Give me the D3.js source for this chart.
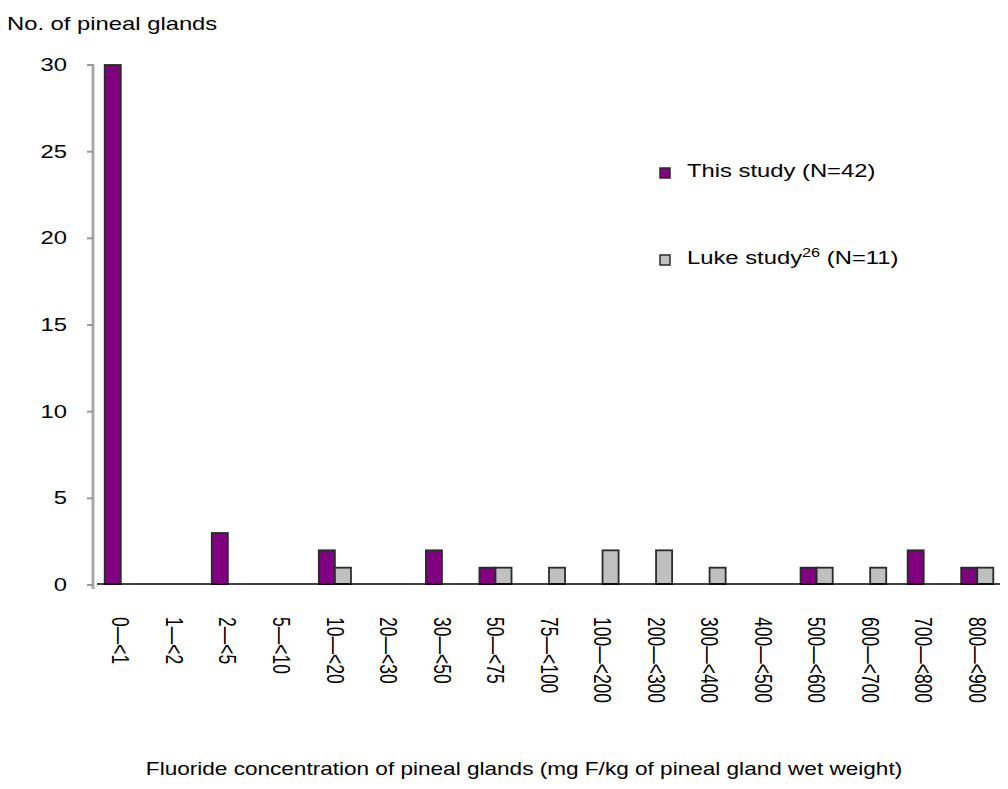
<!DOCTYPE html>
<html>
<head>
<meta charset="utf-8">
<script src="https://cdn.jsdelivr.net/npm/d3@7"></script>
<style>
  html, body { margin: 0; padding: 0; background: #fff; }
  svg { display: block; }
  text { font-family: "Liberation Sans", Arial, sans-serif; fill: #000; }
</style>
</head>
<body>
<svg id="chart" width="1008" height="789"></svg>
<script>
// Fluoride concentration bins (mg F/kg wet weight)
const categories = ["0—<1","1—<2","2—<5","5—<10","10—<20","20—<30","30—<50","50—<75",
  "75—<100","100—<200","200—<300","300—<400","400—<500","500—<600","600—<700","700—<800","800—<900"];
// Number of pineal glands per bin
const thisStudy = [30,0,3,0,2,0,2,1,0,0,0,0,0,1,0,2,1];
const lukeStudy = [0,0,0,0,1,0,0,1,1,2,2,1,0,1,1,0,1];
const seriesNames = ["thisStudy", "lukeStudy"];
const seriesColors = ["#800080", "#c0c0c0"];
const yTicks = [0,5,10,15,20,25,30];

const rows = categories.map((c, i) => ({ cat: c, thisStudy: thisStudy[i], lukeStudy: lukeStudy[i] }));

const svg = d3.select("#chart");
const SX = 1.36; // horizontal text stretch
const FS = 17.5;

const x = d3.scaleBand().domain(categories).range([94, 1004]).paddingInner(0.4).paddingOuter(0.2);
const xs = d3.scaleBand().domain(seriesNames).range([0, x.bandwidth()]).padding(0);
const y = d3.scaleLinear().domain([0, 30]).range([585, 65]);
const baseY = 584;

// y axis: soft grey spine with ticks
const yAxisG = svg.append("g");
yAxisG.append("line").attr("x1", 93).attr("x2", 93).attr("y1", y(30) - 1).attr("y2", y(0) + 4)
  .attr("stroke", "#d6d6d6").attr("stroke-width", 4);
yAxisG.append("line").attr("x1", 93).attr("x2", 93).attr("y1", y(30) - 1).attr("y2", y(0) + 4)
  .attr("stroke", "#a8a8a8").attr("stroke-width", 2);
yAxisG.selectAll("line.tick").data(yTicks).enter().append("line")
  .attr("class", "tick")
  .attr("x1", 87).attr("x2", 93)
  .attr("y1", d => y(d)).attr("y2", d => y(d))
  .attr("stroke", "#9a9a9a").attr("stroke-width", 2);
yAxisG.selectAll("text").data(yTicks).enter().append("text")
  .attr("transform", d => `translate(67,${y(d) + 6}) scale(${SX},1)`)
  .attr("text-anchor", "end")
  .style("font-size", FS + "px")
  .text(d => d);

// bars
const groups = svg.append("g").selectAll("g").data(rows).enter().append("g")
  .attr("transform", d => `translate(${x(d.cat)},0)`);
groups.selectAll("rect").data(d => seriesNames.map((k, j) => ({ key: k, v: d[k], j })))
  .enter().append("rect")
  .attr("x", d => xs(d.key))
  .attr("width", xs.bandwidth())
  .attr("y", d => y(d.v))
  .attr("height", d => Math.max(0, baseY - y(d.v)))
  .attr("fill", d => seriesColors[d.j])
  .attr("stroke", "#2b2b2b")
  .attr("stroke-width", 1.8);

// baseline
svg.append("line").attr("x1", 97).attr("x2", 1000).attr("y1", baseY).attr("y2", baseY)
  .attr("stroke", "#000").attr("stroke-width", 1.5);

// rotated category labels
svg.append("g").selectAll("text").data(categories).enter().append("text")
  .attr("transform", d => `translate(${x(d) + x.bandwidth() / 2},617) scale(${SX},1) rotate(90)`)
  .attr("dy", "0.35em")
  .attr("text-anchor", "start")
  .style("font-size", FS + "px")
  .text(d => d);

// axis titles
svg.append("text").attr("transform", `translate(7,30) scale(${SX},1)`)
  .style("font-size", FS + "px").text("No. of pineal glands");
svg.append("text").attr("transform", `translate(524,775) scale(1.29,1)`)
  .attr("text-anchor", "middle")
  .style("font-size", FS + "px")
  .text("Fluoride concentration of pineal glands (mg F/kg of pineal gland wet weight)");

// legend
const legend = svg.append("g");
const legendItems = [
  { color: seriesColors[0], y: 177, label: "This study (N=42)" },
  { color: seriesColors[1], y: 264, label: null }
];
legendItems.forEach(it => {
  legend.append("rect").attr("x", 660).attr("y", it.y - 9).attr("width", 10).attr("height", 10)
    .attr("fill", it.color).attr("stroke", "#2b2b2b").attr("stroke-width", 1.5);
});
legend.append("text").attr("transform", `translate(687,177) scale(${SX},1)`)
  .style("font-size", FS + "px").text(legendItems[0].label);
const luke = legend.append("text").attr("transform", `translate(687,264) scale(${SX},1)`)
  .style("font-size", FS + "px");
luke.append("tspan").text("Luke study");
luke.append("tspan").attr("dy", -7).style("font-size", "12px").text("26");
luke.append("tspan").attr("dy", 7).text(" (N=11)");
</script>
</body>
</html>
